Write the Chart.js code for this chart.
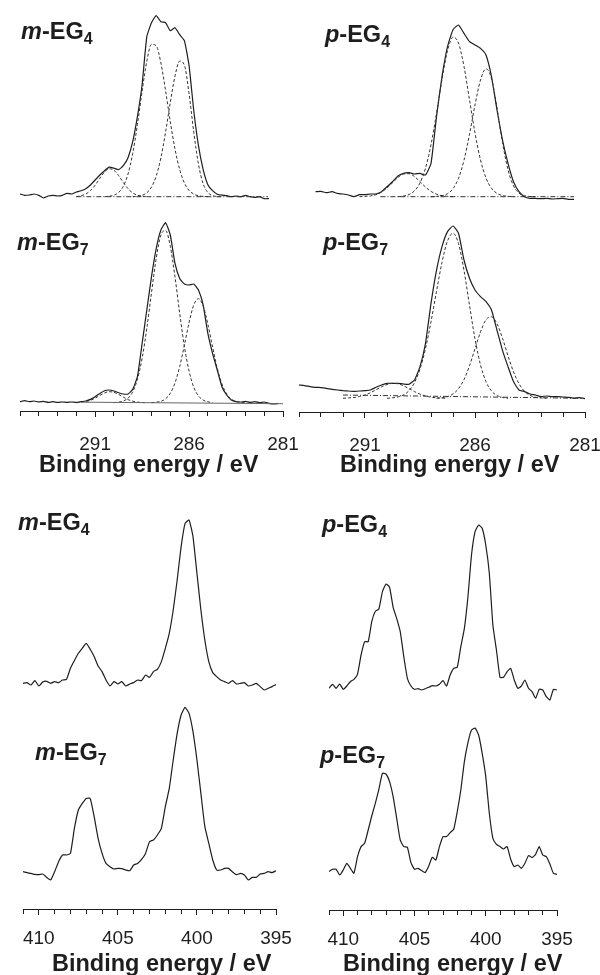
<!DOCTYPE html>
<html>
<head>
<meta charset="utf-8">
<script src="https://cdn.jsdelivr.net/npm/chart.js@4.4.1/dist/chart.umd.min.js"></script>
<style>
  body { margin: 0; width: 600px; height: 975px; background: #fff; position: relative; overflow: hidden;
         font-family: "Liberation Sans", Arial, sans-serif; color: #1e1e1e; }
  canvas { position: absolute; }
  .lbl { position: absolute; font-size: 23.5px; font-weight: bold; line-height: 1; white-space: nowrap; }
  .lbl sub { font-size: 0.68em; vertical-align: -0.3em; line-height: 0; }
  .ttl { position: absolute; font-size: 23.5px; font-weight: bold; line-height: 1; white-space: nowrap; }
</style>
</head>
<body>
<canvas id="c1sLeft" width="330" height="455" style="left:0;top:0"></canvas>
<canvas id="c1sRight" width="350" height="455" style="left:270px;top:0"></canvas>
<canvas id="n1sLeft" width="320" height="505" style="left:0;top:470px"></canvas>
<canvas id="n1sRight" width="330" height="505" style="left:290px;top:470px"></canvas>

<div class="lbl" style="left:21px;top:20px"><i>m</i>-EG<sub>4</sub></div>
<div class="lbl" style="left:17px;top:231px"><i>m</i>-EG<sub>7</sub></div>
<div class="lbl" style="left:325px;top:23px"><i>p</i>-EG<sub>4</sub></div>
<div class="lbl" style="left:323px;top:231px"><i>p</i>-EG<sub>7</sub></div>
<div class="lbl" style="left:18px;top:511px"><i>m</i>-EG<sub>4</sub></div>
<div class="lbl" style="left:35px;top:741px"><i>m</i>-EG<sub>7</sub></div>
<div class="lbl" style="left:322px;top:513px"><i>p</i>-EG<sub>4</sub></div>
<div class="lbl" style="left:320px;top:744px"><i>p</i>-EG<sub>7</sub></div>

<div class="ttl" style="left:39px;top:453px">Binding energy / eV</div>
<div class="ttl" style="left:340px;top:453px">Binding energy / eV</div>
<div class="ttl" style="left:52px;top:952px">Binding energy / eV</div>
<div class="ttl" style="left:343px;top:952px">Binding energy / eV</div>

<script>
// C 1s, left panel (m-EG4 / m-EG7)
const c1sEnergyLeft = [295,294.75,294.5,294.25,294,293.75,293.5,293.25,293,292.75,292.5,292.25,292,291.75,291.5,291.25,291,290.75,290.5,290.25,290,289.75,289.5,289.25,289,288.75,288.5,288.25,288,287.75,287.5,287.25,287,286.75,286.5,286.25,286,285.75,285.5,285.25,285,284.75,284.5,284.25,284,283.75,283.5,283.25,283,282.75,282.5,282.25,282,281.75,281.5,281.25];
const mEG4C1s = [2.7,1.3,1.7,2.7,1.3,-1.3,0.7,1.3,0.7,1.3,3.3,2.7,4.7,6,8,11.7,16.7,21.7,26,29.5,28.5,27,31,39,55,80,112,160,174,181,175,174,166,169,162,156,131,86,51,27,12,6,2.5,1.5,1,0,0.7,0,1.3,0,-0.7,0,-2,-2,null,null];
const mEG7C1s = [1,2,1,1.7,0.7,1.3,0.3,1,0.3,0.7,0.3,0.7,0.3,1,1.7,3.3,6,9.3,12,12.7,11.7,10,8.7,8.7,13.3,26,59,92.7,126,154,172.7,180,167.7,139.3,124.3,118.7,117.7,118.7,112.7,97.7,69.3,49.3,32.7,16,7.7,2.7,1,0.7,1.3,0.3,1,0,0.7,-0.7,-1.3,-0.7];

// fitted components, [energy, intensity]
const mEG4Fit1 = [[292,0],[291.75,1],[291.5,2.7],[291.25,6.1],[291,11.5],[290.75,18.4],[290.5,24.7],[290.25,27.9],[290,26.5],[289.75,21.1],[289.5,14.2],[289.25,8],[289,3.8],[288.75,1.5],[288.5,0.5],[288.25,0]];
const mEG4Fit2 = [[290.5,0],[290.25,0.5],[290,1.5],[289.75,4.2],[289.5,10.5],[289.25,22.7],[289,43.2],[288.75,72.1],[288.5,105.5],[288.25,135.4],[288,152.4],[287.75,151],[287.5,133.7],[287.25,106],[287,75.2],[286.75,47.8],[286.5,27.2],[286.25,13.8],[286,6.3],[285.75,2.6],[285.5,0.9],[285.25,0.3],[285,0]];
const mEG4Fit3 = [[289,0],[288.75,0.4],[288.5,1.4],[288.25,3.9],[288,9.6],[287.75,20.6],[287.5,38.9],[287.25,64.6],[287,94.2],[286.75,120.6],[286.5,135.6],[286.25,131.6],[286,103],[285.75,64.6],[285.5,32.4],[285.25,13],[285,4.2],[284.75,1.1],[284.5,0.2],[284.25,0]];
const mEG4Base = [[292,0],[281.8,0]];

const mEG7Fit1 = [[292,0],[291.75,0.4],[291.5,1.1],[291.25,2.4],[291,4.5],[290.75,7.2],[290.5,9.7],[290.25,11],[290,10.4],[289.75,8.3],[289.5,5.6],[289.25,3.1],[289,1.5],[288.75,0.6],[288.5,0.2],[288.25,0]];
const mEG7Fit2 = [[290,0],[289.75,0.5],[289.5,1.7],[289.25,4.5],[289,10.9],[288.75,23.4],[288.5,44.3],[288.25,74.2],[288,110],[287.75,144.3],[287.5,167.6],[287.25,172.2],[287,156.5],[286.75,125.9],[286.5,89.6],[286.25,56.4],[286,31.6],[285.75,15.5],[285.5,6.8],[285.25,2.6],[285,0.9],[284.75,0]];
const mEG7Fit3 = [[288,0],[287.75,0.5],[287.5,1.4],[287.25,3.9],[287,9.4],[286.75,19.7],[286.5,36.1],[286.25,57.5],[286,80.2],[285.75,97.7],[285.5,104],[285.25,96.7],[285,78.5],[284.75,55.7],[284.5,34.5],[284.25,18.7],[284,8.8],[283.75,3.6],[283.5,1.3],[283.25,0.4],[283,0]];
const mEG7Base = [[291.6,0.5],[281,-1]];

// C 1s, right panel (p-EG4 / p-EG7)
const c1sEnergyRight = [294,293.75,293.5,293.25,293,292.75,292.5,292.25,292,291.75,291.5,291.25,291,290.75,290.5,290.25,290,289.75,289.5,289.25,289,288.75,288.5,288.25,288,287.75,287.5,287.25,287,286.75,286.5,286.25,286,285.75,285.5,285.25,285,284.75,284.5,284.25,284,283.75,283.5,283.25,283,282.75,282.5,282.25,282,281.75,281.5,281.25,281];
const pEG4C1s = [null,null,null,5,5.3,4,5,3.3,2.7,1.7,0,2,2,2.7,2.7,5,10,15,20.7,23.3,24,22.7,23.3,21.7,33.3,80,120,150,167,171.7,163.3,155,151.7,148.3,141.7,120,86.7,56.7,33.3,15,5,0,-1.7,-1.7,-2,-1.7,-2.3,-2,-1.7,-2.7,-2.7,null,null];
const pEG7C1s = [13.3,12.7,11.7,11,10.7,10,9,8.3,7.7,7.3,7,7.3,7.7,8.3,11,13.3,15,15,15,14.3,14,18.3,31.7,55,95,128,151.7,166.7,172.3,165,138.3,120,108.3,101.7,96.7,88.3,68,48,31.7,16.7,8.3,6.7,4.3,3.3,1.7,2.3,1.7,1.7,1.3,1,0,0.7,-0.3];

const pEG4Fit1 = [[291.25,0],[291,0.3],[290.75,0.8],[290.5,2.1],[290.25,4.6],[290,8.7],[289.75,13.9],[289.5,19.2],[289.25,22.7],[289,23],[288.75,20.1],[288.5,15],[288.25,9.7],[288,5.3],[287.75,2.5],[287.5,1],[287.25,0.4],[287,0]];
const pEG4Fit2 = [[289.5,0],[289.25,0.7],[289,2.2],[288.75,5.9],[288.5,13.8],[288.25,28.5],[288,52],[287.75,83.3],[287.5,117.5],[287.25,146],[287,159.6],[286.75,153.6],[286.5,130.2],[286.25,97],[286,63.7],[285.75,36.8],[285.5,18.7],[285.25,8.4],[285,3.3],[284.75,1.1],[284.5,0.4],[284.25,0]];
const pEG4Fit3 = [[288,0],[287.75,0.3],[287.5,1],[287.25,3],[287,8],[286.75,18.4],[286.5,36.5],[286.25,62.3],[286,91.8],[285.75,116.7],[285.5,127.9],[285.25,118],[285,88.8],[284.75,54.3],[284.5,27],[284.25,10.9],[284,3.6],[283.75,1],[283.5,0.2],[283.25,0]];
const pEG4Base = [[290.3,0],[281.5,0]];

const pEG7Fit1 = [[292,0],[291.75,0.4],[291.5,0.8],[291.25,1.8],[291,3.3],[290.75,5.6],[290.5,8.5],[290.25,11.5],[290,13.8],[289.75,15],[289.5,14.5],[289.25,12.5],[289,9.7],[288.75,6.7],[288.5,4.2],[288.25,2.3],[288,1.1],[287.75,0.5],[287.5,0.2],[287.25,0]];
const pEG7Fit2 = [[290,0],[289.75,0.5],[289.5,1.4],[289.25,3.4],[289,7.6],[288.75,15.7],[288.5,29.2],[288.25,49.6],[288,76.5],[287.75,107],[287.5,136],[287.25,157.3],[287,165],[286.75,154.8],[286.5,127.9],[286.25,93],[286,59.5],[285.75,33.5],[285.5,16.6],[285.25,7.3],[285,2.8],[284.75,0.9],[284.5,0]];
const pEG7Fit3 = [[287.75,0],[287.5,0.6],[287.25,1.7],[287,4.3],[286.75,9.6],[286.5,18.8],[286.25,32.5],[286,49.6],[285.75,66.4],[285.5,78.5],[285.25,81.5],[285,74.5],[284.75,60],[284.5,42.5],[284.25,26.5],[284,14.6],[283.75,7],[283.5,3],[283.25,1.1],[283,0.4],[282.75,0]];
const pEG7Base = [[292,3.3],[281.1,0]];

// N 1s, both panels share one energy grid
const n1sEnergy = [411,410.75,410.5,410.25,410,409.75,409.5,409.25,409,408.75,408.5,408.25,408,407.75,407.5,407.25,407,406.75,406.5,406.25,406,405.75,405.5,405.25,405,404.75,404.5,404.25,404,403.75,403.5,403.25,403,402.75,402.5,402.25,402,401.75,401.5,401.25,401,400.75,400.5,400.25,400,399.75,399.5,399.25,399,398.75,398.5,398.25,398,397.75,397.5,397.25,397,396.75,396.5,396.25,396,395.75,395.5,395.25,395];
const mEG4N1s = [0,0.7,-1.7,2.7,-2.7,1.3,2,0,1.7,0.7,3.3,4,15,22.7,30,35,40,34,26.7,17.3,11.7,3.3,-2.7,1.7,-0.7,1.7,-2.7,-0.7,0.7,3.3,2.7,8.3,6,11.7,14,21.7,35,50,73.3,103.3,136.7,160,163.3,146.7,110,73.3,43.3,21.7,10.7,6.7,3.3,1.7,0,2.7,-0.7,0,0.7,-2.7,-1.7,0,-3.3,-6.7,-5,-3.3,-1.3];
const mEG7N1s = [0,-1,-1.7,-2.7,-3,-2.3,-5.7,-8.3,0,10,16.7,16.7,18.3,43.3,61.7,68.3,73.3,73.3,55,33.3,18.3,8.3,5,2.7,3.3,3,1.7,1,6.7,8.3,12.3,18.3,30,31.7,36.7,43.3,65,83.3,111.7,138.3,156.7,164.3,158.3,140,111.7,78.3,45,28.3,11.7,1.7,1.7,3.3,3.3,-0.3,-3,-1.7,-3.3,-8.3,-5.7,-5.7,-2.3,-1.7,0,-1,1];
const pEG4N1s = [1.7,5.7,1.7,6,0.7,4,8.3,10.7,15.7,35,48.3,48.3,68.3,78.7,81,98.3,106,102.7,82.7,71.7,58.3,33.3,11.7,4,0.7,1.3,0,1.3,2.7,4.3,4,5.7,9.3,4,15,21.7,22.7,43.3,61.7,93.3,135,158.3,165,161.7,145,116.7,65,40,12.7,12.7,18.3,21.7,10,1.7,4,10,1.7,-1.7,-8.3,0.7,0,-6.7,-10,0.7,0];
const pEG7N1s = [1.7,4,4,-1.7,3.3,10,5,0,16.7,26.7,30,43.3,57.3,70,84,100,99.3,91.7,76.7,55,33.3,26.7,26,10.7,4,5,2.7,0.7,7.3,16,13.3,26.7,36.7,36.7,40.7,44,61.7,83.3,111.7,130.7,143.3,145.3,138.3,120,96.7,60,35,29,26.7,24.3,26.7,14,6.7,8.3,5,10,17.7,15.7,19,26.7,18.3,16.7,9.3,0,-1];

const c1sLabels = [291, 286, 281];
const n1sLabels = [410, 405, 400, 395];

const FONT = '"Liberation Sans", Arial, sans-serif';
const INK = '#1e1e1e';

function spectrum(energy, values, axis) {
    return {
        data: energy.map((e, i) => ({ x: e, y: values[i] })),
        yAxisID: axis,
        borderColor: INK,
        borderWidth: 1.2,
        pointRadius: 0,
        tension: 0.15,
        spanGaps: false
    };
}

function fitLine(pairs, axis) {
    return {
        data: pairs.map(p => ({ x: p[0], y: p[1] })),
        yAxisID: axis,
        borderColor: '#333',
        borderWidth: 1,
        borderDash: [3, 2],
        pointRadius: 0,
        cubicInterpolationMode: 'monotone'
    };
}

function baseLine(pairs, axis, dashed) {
    return {
        data: pairs.map(p => ({ x: p[0], y: p[1] })),
        yAxisID: axis,
        borderColor: dashed ? '#333' : '#666',
        borderWidth: 1,
        borderDash: dashed ? [5, 2, 1, 2] : [],
        pointRadius: 0
    };
}

function makeChart(id, cfg) {
    const ctx = document.getElementById(id).getContext('2d');
    return new Chart(ctx, {
        type: 'line',
        data: { datasets: cfg.datasets },
        options: {
            responsive: false,
            animation: false,
            events: [],
            layout: { padding: { left: cfg.padLeft, right: cfg.padRight, top: 0, bottom: 0 } },
            plugins: { legend: { display: false }, tooltip: { enabled: false } },
            scales: {
                x: {
                    type: 'linear',
                    reverse: true,
                    min: cfg.xMin,
                    max: cfg.xMax,
                    ticks: {
                        stepSize: 1,
                        autoSkip: false,
                        maxRotation: 0,
                        padding: cfg.tickPad,
                        color: INK,
                        font: { family: FONT, size: 19 },
                        callback: v => cfg.labels.includes(v) ? String(v) : ''
                    },
                    grid: {
                        drawOnChartArea: false,
                        drawTicks: true,
                        tickLength: 6,
                        color: INK,
                        lineWidth: 1,
                        // minor ticks drawn shorter than the labelled ones
                        tickBorderDash: c => (c.tick && cfg.labels.includes(c.tick.value)) ? [] : [4, 10]
                    },
                    border: { display: true, color: INK, width: 1 },
                    afterFit: s => { s.height = cfg.axisHeight; }
                },
                upper: { display: false, min: cfg.upper[0], max: cfg.upper[1] },
                lower: { display: false, min: cfg.lower[0], max: cfg.lower[1] }
            }
        }
    });
}

makeChart('c1sLeft', {
    xMin: 281, xMax: 295, padLeft: 20, padRight: 47, axisHeight: 44, tickPad: 16, labels: c1sLabels,
    upper: [-214.3, 196.7], lower: [-8.3, 402.7],
    datasets: [
        baseLine(mEG4Base, 'upper', true),
        fitLine(mEG4Fit1, 'upper'), fitLine(mEG4Fit2, 'upper'), fitLine(mEG4Fit3, 'upper'),
        spectrum(c1sEnergyLeft, mEG4C1s, 'upper'),
        baseLine(mEG7Base, 'lower', false),
        fitLine(mEG7Fit1, 'lower'), fitLine(mEG7Fit2, 'lower'), fitLine(mEG7Fit3, 'lower'),
        spectrum(c1sEnergyLeft, mEG7C1s, 'lower')
    ]
});

makeChart('c1sRight', {
    xMin: 281, xMax: 294, padLeft: 29, padRight: 35, axisHeight: 43, tickPad: 16, labels: c1sLabels,
    upper: [-215.3, 196.7], lower: [-13.7, 398.3],
    datasets: [
        baseLine(pEG4Base, 'upper', true),
        fitLine(pEG4Fit1, 'upper'), fitLine(pEG4Fit2, 'upper'), fitLine(pEG4Fit3, 'upper'),
        spectrum(c1sEnergyRight, pEG4C1s, 'upper'),
        baseLine(pEG7Base, 'lower', true),
        fitLine(pEG7Fit1, 'lower'), fitLine(pEG7Fit2, 'lower'), fitLine(pEG7Fit3, 'lower'),
        spectrum(c1sEnergyRight, pEG7C1s, 'lower')
    ]
});

makeChart('n1sLeft', {
    xMin: 395, xMax: 411, padLeft: 23, padRight: 44, axisHeight: 66, tickPad: 12, labels: n1sLabels,
    upper: [-225.7, 213.3], lower: [-37.3, 401.7],
    datasets: [
        spectrum(n1sEnergy, mEG4N1s, 'upper'),
        spectrum(n1sEnergy, mEG7N1s, 'lower')
    ]
});

makeChart('n1sRight', {
    xMin: 395, xMax: 411, padLeft: 39, padRight: 63, axisHeight: 65, tickPad: 12, labels: n1sLabels,
    upper: [-220, 220], lower: [-36.7, 403.3],
    datasets: [
        spectrum(n1sEnergy, pEG4N1s, 'upper'),
        spectrum(n1sEnergy, pEG7N1s, 'lower')
    ]
});
</script>
</body>
</html>
